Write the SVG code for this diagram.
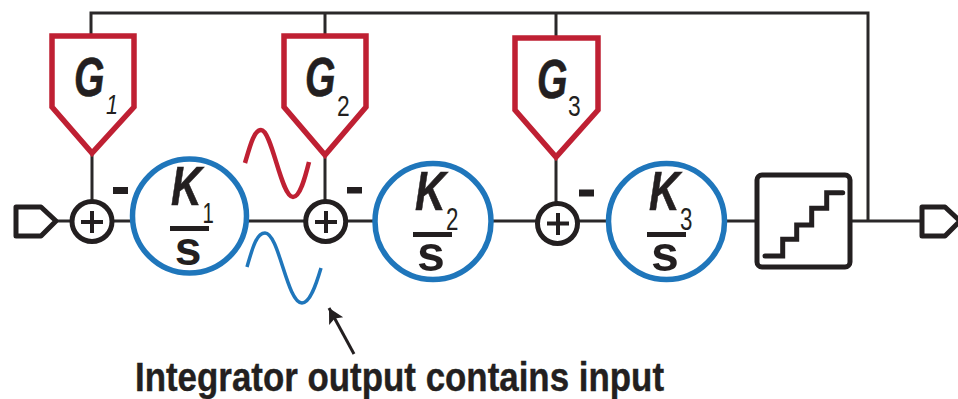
<svg xmlns="http://www.w3.org/2000/svg" width="958" height="399" viewBox="0 0 958 399">
<style>
.w{fill:none;stroke:#2a2829;stroke-width:3}
.red{fill:none;stroke:#bf2033;stroke-width:5.500;stroke-linejoin:miter}
.blue{fill:#fff;stroke:#1f76bb;stroke-width:5.500}
.sum{fill:#fff;stroke:#231f20;stroke-width:5}
.plus{fill:none;stroke:#231f20;stroke-width:4}
.port{fill:none;stroke:#231f20;stroke-width:5;stroke-linejoin:round}
.bar{fill:#231f20}
text{font-family:"Liberation Sans",Arial,sans-serif;fill:#231f20;font-weight:700}
.lt{font-weight:400}
.it{font-style:italic}
.hv{stroke:#231f20;stroke-width:.6}
</style>
<defs>
<marker id="ah" markerUnits="userSpaceOnUse" markerWidth="16" markerHeight="18" refX="15" refY="8" orient="auto"><path d="M0,0L15,8L0,16L3,8Z" fill="#231f20"/></marker>
</defs>
<rect width="958" height="399" fill="#fff"/>
<g id="connectors">
<path class="w" d="M91,36V13H868V221M325,13V36M556,13V38M92,153V200M325,155V200M556,157V203M57,221H70M112,221H132M248,221H305M346,221H374M493,221H536M578,221H607M726,221H757M850,221H922"/>
<path d="M354,354L329,308" fill="none" stroke="#231f20" stroke-width="3" marker-end="url(#ah)"/>
</g>
<g id="input"><path class="port" d="M16,207H41L56,221L41,236H16Z"/></g>
<g id="output"><path class="port" d="M922,207H945L960,221L945,236H922Z"/></g>
<g id="G1"><path class="red" d="M52,36H134V107L92,153L52,107Z"/>
<text class="it hv" transform="translate(74,96) scale(.7,1)" font-size="56">G</text>
<text class="it lt" transform="translate(106,114) scale(.8,1)" font-size="27">1</text></g>
<g id="G2"><path class="red" d="M284,36H366V107L325,155L284,107Z"/>
<text class="it hv" transform="translate(305,96) scale(.7,1)" font-size="56">G</text>
<text class="lt" transform="translate(337,116) scale(.76,1)" font-size="30">2</text></g>
<g id="G3"><path class="red" d="M515,38H598V110L556,157L515,110Z"/>
<text class="it hv" transform="translate(537,98) scale(.7,1)" font-size="56">G</text>
<text class="lt" transform="translate(568,116) scale(.76,1)" font-size="30">3</text></g>
<g id="sum1"><circle class="sum" cx="92" cy="221.500" r="20"/><path class="plus" d="M81,222H103M92,211V233"/></g>
<g id="minus1"><rect class="bar" x="113" y="187" width="15" height="7"/></g>
<g id="K1"><circle class="blue" cx="189.500" cy="216" r="57"/>
<text class="it hv" transform="translate(171,205) scale(.76,1)" font-size="56">K</text>
<text class="lt" transform="translate(202.500,223) scale(.68,1)" font-size="30">1</text>
<rect class="bar" x="170" y="226" width="39" height="5"/>
<text text-anchor="middle" x="188" y="265" font-size="48">s</text></g>
<g id="sum2"><circle class="sum" cx="325.700" cy="221.500" r="20"/><path class="plus" d="M315,222H337M326,211V233"/></g>
<g id="minus2"><rect class="bar" x="347" y="187" width="15" height="6.500"/></g>
<g id="K2"><circle class="blue" cx="433" cy="221.500" r="58"/>
<text class="it hv" transform="translate(415,210) scale(.76,1)" font-size="56">K</text>
<text class="lt" transform="translate(446,230) scale(.72,1)" font-size="31">2</text>
<rect class="bar" x="413" y="232" width="39" height="5"/>
<text text-anchor="middle" x="431" y="271" font-size="50">s</text></g>
<g id="sum3"><circle class="sum" cx="557.500" cy="223.500" r="20"/><path class="plus" d="M547,223.500H569M558,213V235"/></g>
<g id="minus3"><rect class="bar" x="579" y="189.500" width="15" height="7"/></g>
<g id="K3"><circle class="blue" cx="666.500" cy="221.500" r="58"/>
<text class="it hv" transform="translate(649,210) scale(.76,1)" font-size="56">K</text>
<text class="lt" transform="translate(680,230) scale(.72,1)" font-size="31">3</text>
<rect class="bar" x="647" y="232" width="39" height="5"/>
<text text-anchor="middle" x="665" y="271" font-size="50">s</text></g>
<g id="quantizer"><rect x="757" y="175" width="93" height="92" rx="5" fill="#fff" stroke="#231f20" stroke-width="5"/>
<path d="M765,256H782.700V239.300H796.700V225H811.700V208.300H826.700V192.700H842.700" fill="none" stroke="#231f20" stroke-width="5" stroke-linecap="round"/></g>
<g id="waves">
<path d="M245,163C250,146 254,130 261,130C272,130 281,197 293,197C300,197 305,178 309,162" fill="none" stroke="#bf2033" stroke-width="4.500"/>
<path d="M247,267C252,250 256,233 265,233C279,233 287,303 302,303C310,303 316,285 321,268" fill="none" stroke="#1f76bb" stroke-width="3.500"/>
</g>
<text id="caption" x="135" y="390.500" font-size="40" textLength="529" lengthAdjust="spacingAndGlyphs" stroke="#231f20" stroke-width=".4">Integrator output contains input</text>
</svg>
